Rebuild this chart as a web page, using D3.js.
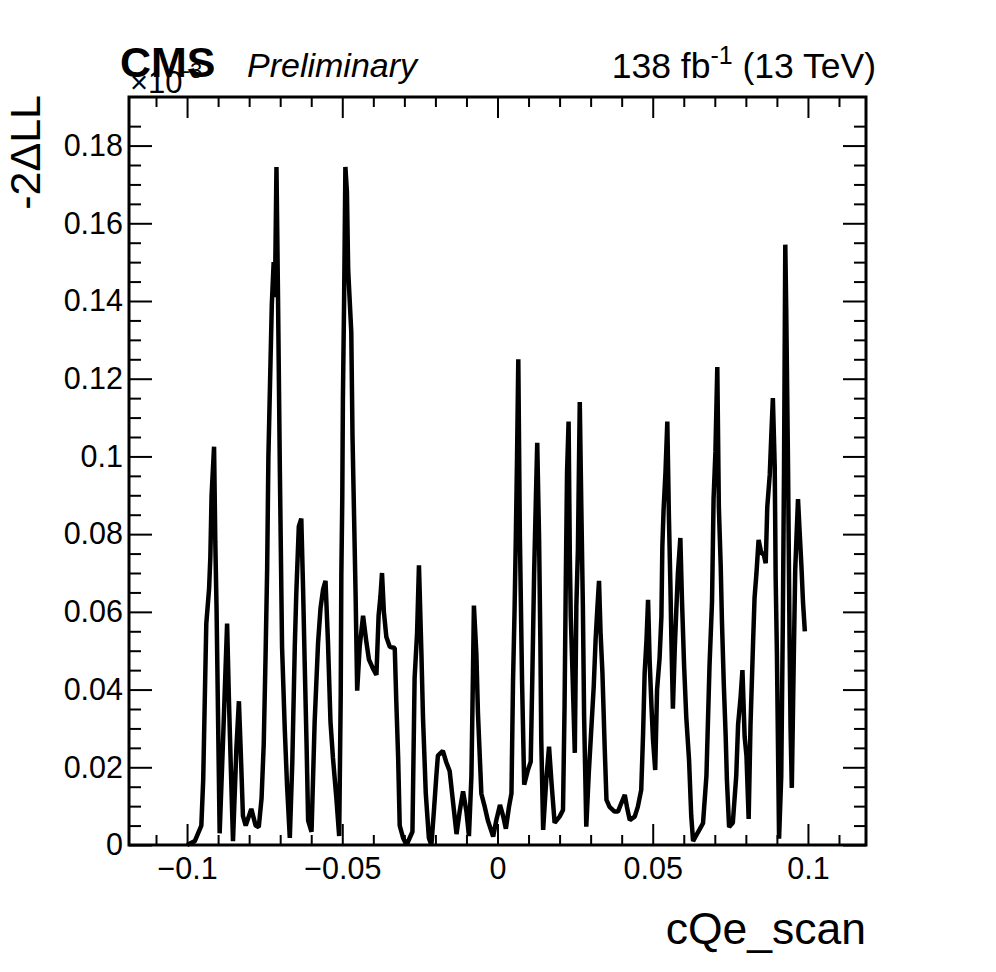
<!DOCTYPE html>
<html>
<head>
<meta charset="utf-8">
<script src="https://cdn.jsdelivr.net/npm/d3@7"></script>
<style>
  body { margin: 0; background: #fff; }
  text { font-family: "Liberation Sans", Arial, Helvetica, sans-serif; fill: #000; }
</style>
</head>
<body>
<svg id="chart" width="996" height="972"></svg>
<script>
// scan points (y in units of 1e-3)
var scanX = [
  -0.1000, -0.0975, -0.0954, -0.0948, -0.0943, -0.0938, -0.0929, -0.0925, -0.0921, -0.0913,
  -0.0909, -0.0905, -0.0895, -0.0884, -0.0871, -0.0865, -0.0859, -0.0852, -0.0841, -0.0833,
  -0.0827, -0.0820, -0.0811, -0.0793, -0.0779, -0.0769, -0.0760, -0.0753, -0.0747, -0.0742,
  -0.0738, -0.0731, -0.0727, -0.0721, -0.0717, -0.0712, -0.0707, -0.0701, -0.0694, -0.0685,
  -0.0678, -0.0669, -0.0661, -0.0653, -0.0648, -0.0640, -0.0632, -0.0626, -0.0621, -0.0615,
  -0.0610, -0.0599, -0.0589, -0.0578, -0.0570, -0.0562, -0.0554, -0.0546, -0.0538, -0.0530,
  -0.0519, -0.0510, -0.0505, -0.0503, -0.0500, -0.0498, -0.0494, -0.0490, -0.0485, -0.0481,
  -0.0476, -0.0471, -0.0467, -0.0462, -0.0457, -0.0452, -0.0444, -0.0433, -0.0422, -0.0414,
  -0.0401, -0.0390, -0.0383, -0.0377, -0.0372, -0.0366, -0.0358, -0.0347, -0.0331, -0.0326,
  -0.0320, -0.0315, -0.0304, -0.0293, -0.0274, -0.0267, -0.0259, -0.0253, -0.0245, -0.0240,
  -0.0231, -0.0221, -0.0213, -0.0205, -0.0197, -0.0192, -0.0176, -0.0165, -0.0154, -0.0143,
  -0.0132, -0.0122, -0.0111, -0.0100, -0.0092, -0.0084, -0.0079, -0.0076, -0.0068, -0.0063,
  -0.0052, -0.0041, -0.0031, -0.0014, -0.0004, 0.0008, 0.0018, 0.0027, 0.0037, 0.0045,
  0.0050, 0.0055, 0.0059, 0.0063, 0.0067, 0.0072, 0.0079, 0.0086, 0.0098, 0.0107,
  0.0112, 0.0118, 0.0123, 0.0128, 0.0134, 0.0138, 0.0141, 0.0147, 0.0157, 0.0166,
  0.0174, 0.0184, 0.0200, 0.0211, 0.0216, 0.0220, 0.0224, 0.0229, 0.0233, 0.0236,
  0.0241, 0.0249, 0.0254, 0.0259, 0.0265, 0.0270, 0.0275, 0.0279, 0.0286, 0.0294,
  0.0302, 0.0310, 0.0316, 0.0322, 0.0327, 0.0332, 0.0338, 0.0345, 0.0351, 0.0361,
  0.0377, 0.0388, 0.0399, 0.0410, 0.0417, 0.0426, 0.0442, 0.0452, 0.0463, 0.0469,
  0.0474, 0.0480, 0.0485, 0.0490, 0.0496, 0.0501, 0.0508, 0.0514, 0.0522, 0.0528,
  0.0531, 0.0535, 0.0541, 0.0547, 0.0552, 0.0557, 0.0560, 0.0565, 0.0571, 0.0576,
  0.0581, 0.0589, 0.0594, 0.0601, 0.0608, 0.0617, 0.0624, 0.0630, 0.0641, 0.0651,
  0.0662, 0.0673, 0.0683, 0.0691, 0.0696, 0.0702, 0.0708, 0.0713, 0.0719, 0.0723,
  0.0729, 0.0735, 0.0739, 0.0746, 0.0758, 0.0769, 0.0775, 0.0783, 0.0789, 0.0796,
  0.0802, 0.0809, 0.0815, 0.0823, 0.0828, 0.0834, 0.0841, 0.0850, 0.0857, 0.0864,
  0.0869, 0.0877, 0.0882, 0.0887, 0.0893, 0.0896, 0.0900, 0.0907, 0.0914, 0.0919,
  0.0923, 0.0927, 0.0930, 0.0936, 0.0941, 0.0944, 0.0948, 0.0954, 0.0959, 0.0963,
  0.0968, 0.0973, 0.0979, 0.0984, 0.0990
];
var scanY = [
  0, 0.001, 0.005, 0.0167, 0.037, 0.057, 0.066, 0.074, 0.090, 0.1025,
  0.078, 0.061, 0.003, 0.027, 0.057, 0.037, 0.020, 0.001, 0.025, 0.037,
  0.024, 0.0075, 0.005, 0.0093, 0.005, 0.0046, 0.012, 0.026, 0.049, 0.071,
  0.0997, 0.125, 0.139, 0.150, 0.141, 0.1745, 0.141, 0.096, 0.051, 0.0293,
  0.0155, 0.0018, 0.0213, 0.051, 0.065, 0.082, 0.084, 0.065, 0.0466, 0.0258,
  0.0063, 0.0034, 0.0317, 0.052, 0.061, 0.0657, 0.068, 0.052, 0.0317, 0.0224,
  0.012, 0.0023, 0.0386, 0.0696, 0.089, 0.1146, 0.141, 0.1745, 0.168, 0.148,
  0.140, 0.132, 0.105, 0.0846, 0.064, 0.0397, 0.051, 0.059, 0.052, 0.0477,
  0.0454, 0.0438, 0.059, 0.064, 0.070, 0.060, 0.0535, 0.051, 0.0507, 0.037,
  0.0224, 0.005, 0.0018, 0.0, 0.0034, 0.043, 0.0546, 0.072, 0.049, 0.0328,
  0.0132, 0.0018, 0.0, 0.0086, 0.0178, 0.023, 0.0242, 0.0213, 0.019, 0.0109,
  0.0028, 0.0086, 0.0138, 0.0086, 0.0023, 0.0178, 0.0443, 0.0616, 0.049, 0.034,
  0.0132, 0.0098, 0.0063, 0.0022, 0.0063, 0.0103, 0.0075, 0.0042, 0.0098, 0.0133,
  0.042, 0.0605, 0.079, 0.100, 0.125, 0.080, 0.0425, 0.0155, 0.0193, 0.0214,
  0.0425, 0.070, 0.087, 0.1035, 0.0785, 0.0528, 0.027, 0.0039, 0.0167, 0.0253,
  0.016, 0.0057, 0.0073, 0.009, 0.0356, 0.068, 0.0958, 0.109, 0.0742, 0.0588,
  0.0459, 0.0237, 0.0614, 0.076, 0.114, 0.087, 0.0614, 0.033, 0.0047, 0.0185,
  0.0296, 0.0408, 0.0528, 0.0614, 0.068, 0.0546, 0.0443, 0.0258, 0.0116, 0.0098,
  0.0086, 0.0086, 0.0108, 0.0129, 0.0098, 0.0064, 0.0073, 0.0098, 0.0142, 0.0288,
  0.0443, 0.0528, 0.0631, 0.0476, 0.0356, 0.027, 0.0193, 0.040, 0.048, 0.0588,
  0.0768, 0.0863, 0.0958, 0.109, 0.085, 0.0667, 0.0535, 0.0351, 0.0505, 0.0605,
  0.0698, 0.079, 0.0636, 0.0463, 0.033, 0.0219, 0.0076, 0.001, 0.0026, 0.004,
  0.0056, 0.0178, 0.0463, 0.0626, 0.089, 0.1013, 0.123, 0.087, 0.0718, 0.0575,
  0.0412, 0.028, 0.0167, 0.0046, 0.0057, 0.0178, 0.031, 0.038, 0.045, 0.028,
  0.0229, 0.0067, 0.031, 0.0515, 0.0636, 0.0698, 0.0785, 0.075, 0.075, 0.0725,
  0.087, 0.0953, 0.1054, 0.115, 0.0973, 0.0688, 0.0494, 0.0016, 0.0178, 0.0565,
  0.0973, 0.1545, 0.138, 0.0963, 0.0505, 0.030, 0.0147, 0.0463, 0.0708, 0.079,
  0.089, 0.081, 0.0718, 0.0626, 0.055
];

var xMajorTicks = [-0.1, -0.05, 0, 0.05, 0.1];
var xMinorTicks = [-0.11, -0.09, -0.08, -0.07, -0.06, -0.04, -0.03, -0.02, -0.01,
                   0.01, 0.02, 0.03, 0.04, 0.06, 0.07, 0.08, 0.09, 0.11];
var yMajorTicks = [0, 0.02, 0.04, 0.06, 0.08, 0.1, 0.12, 0.14, 0.16, 0.18];
var yMinorTicks = d3.range(0.005, 0.19, 0.005).filter(function (v) {
  return Math.abs(v / 0.02 - Math.round(v / 0.02)) > 1e-6;
});

var xTitle = "cQe_scan";
var yTitle = "-2\u0394LL";

var frame = { left: 129, right: 866, top: 97, bottom: 845 };

var x = d3.scaleLinear().domain([-0.1187, 0.1187]).range([frame.left, frame.right]);
var y = d3.scaleLinear().domain([0, 0.1925]).range([frame.bottom, frame.top]);

var svg = d3.select("#chart");

function styleAxis(g) {
  g.select(".domain").remove();
  g.selectAll(".tick line").attr("stroke", "#000").attr("stroke-width", 2);
  g.selectAll(".tick text").style("font-size", "30.5px").attr("fill", "#000");
}

// bottom axis with labels
svg.append("g")
  .attr("transform", "translate(0," + frame.bottom + ")")
  .call(d3.axisBottom(x).tickValues(xMajorTicks).tickSize(-21).tickPadding(12)
        .tickFormat(d3.format("")))
  .call(styleAxis);
svg.append("g")
  .attr("transform", "translate(0," + frame.bottom + ")")
  .call(d3.axisBottom(x).tickValues(xMinorTicks).tickSize(-10).tickFormat(""))
  .call(styleAxis);
// top axis ticks only
svg.append("g")
  .attr("transform", "translate(0," + frame.top + ")")
  .call(d3.axisTop(x).tickValues(xMajorTicks).tickSize(-21).tickFormat(""))
  .call(styleAxis);
svg.append("g")
  .attr("transform", "translate(0," + frame.top + ")")
  .call(d3.axisTop(x).tickValues(xMinorTicks).tickSize(-10).tickFormat(""))
  .call(styleAxis);

// left axis with labels
svg.append("g")
  .attr("transform", "translate(" + frame.left + ",0)")
  .call(d3.axisLeft(y).tickValues(yMajorTicks).tickSize(-23).tickPadding(6)
        .tickFormat(d3.format("")))
  .call(styleAxis);
svg.append("g")
  .attr("transform", "translate(" + frame.left + ",0)")
  .call(d3.axisLeft(y).tickValues(yMinorTicks).tickSize(-12).tickFormat(""))
  .call(styleAxis);
// right axis ticks only
svg.append("g")
  .attr("transform", "translate(" + frame.right + ",0)")
  .call(d3.axisRight(y).tickValues(yMajorTicks).tickSize(-23).tickFormat(""))
  .call(styleAxis);
svg.append("g")
  .attr("transform", "translate(" + frame.right + ",0)")
  .call(d3.axisRight(y).tickValues(yMinorTicks).tickSize(-12).tickFormat(""))
  .call(styleAxis);

// the scan curve
var line = d3.line()
  .x(function (d) { return x(d[0]); })
  .y(function (d) { return y(d[1]); });

svg.append("path")
  .datum(d3.zip(scanX, scanY))
  .attr("d", line)
  .attr("fill", "none")
  .attr("stroke", "#000")
  .attr("stroke-width", 4.5)
  .attr("stroke-linejoin", "bevel");

// frame
svg.append("rect")
  .attr("x", frame.left).attr("y", frame.top)
  .attr("width", frame.right - frame.left)
  .attr("height", frame.bottom - frame.top)
  .attr("fill", "none").attr("stroke", "#000").attr("stroke-width", 3);

// exponent label (sits under the CMS mark, as in the original)
var expo = svg.append("text")
  .attr("x", 130).attr("y", 93)
  .style("font-size", "31px");
expo.append("tspan").text("\u00d710");
expo.append("tspan").attr("dy", -15).style("font-size", "22px").text("-3");

// titles
svg.append("text")
  .attr("x", frame.right).attr("y", 944)
  .attr("text-anchor", "end")
  .style("font-size", "44.5px")
  .text(xTitle);

svg.append("text")
  .attr("transform", "translate(40,95) rotate(-90)")
  .attr("text-anchor", "end")
  .style("font-size", "43px")
  .text(yTitle);

svg.append("text")
  .attr("x", 120).attr("y", 77)
  .style("font-size", "43px").style("font-weight", "bold")
  .text("CMS");

svg.append("text")
  .attr("x", 247).attr("y", 77)
  .style("font-size", "34px").style("font-style", "italic")
  .text("Preliminary");

var lumi = svg.append("text")
  .attr("x", 876).attr("y", 78)
  .attr("text-anchor", "end")
  .style("font-size", "35.5px");
lumi.append("tspan").text("138 fb");
lumi.append("tspan").attr("dy", -14).style("font-size", "25px").text("-1");
lumi.append("tspan").attr("dy", 14).text(" (13 TeV)");
</script>
</body>
</html>
